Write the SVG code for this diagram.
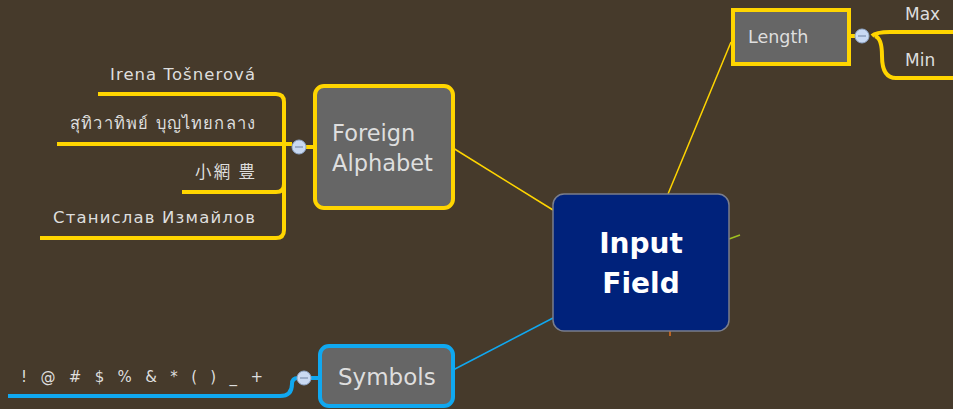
<svg xmlns="http://www.w3.org/2000/svg" width="953" height="409" viewBox="0 0 953 409">
  <style>
    .bg { fill: #463a2b; }
    .topic { fill: #666666; }
    .yel { stroke: #ffd500; }
    .blu { stroke: #10a8f0; }
    .branch { fill: none; stroke-width: 4; stroke-linecap: butt; }
    .link { fill: none; stroke-width: 1.5; }
    .lbl { font-family: "DejaVu Sans", "Open Sans", sans-serif; fill: #dedede; }
    .leaf { font-size: 16.5px; text-anchor: end; }
    .toggle { fill: #c9d9f2; stroke: #8fa6c8; stroke-width: 1; }
    .dash { stroke: #7d8fae; stroke-width: 1.2; }
  </style>
  <rect class="bg" x="0" y="0" width="953" height="409"/>

  <!-- connectors -->
  <g id="connectors">
    <path class="link yel" d="M453,148 L553,210"/>
    <path class="link yel" d="M668,194 L731,42"/>
    <path class="link blu" d="M453,370 L553,318"/>
    <path class="link" stroke="#9fc020" d="M729,239 L740,235"/>
    <path class="link" stroke="#e07020" d="M670,331 L670,336"/>

    <!-- Foreign Alphabet leaves -->
    <path class="branch yel" d="M98,94 H276 Q284,94 284,102 V230 Q284,238 276,238 H40"/>
    <path class="branch yel" d="M57,144 H292"/>
    <path class="branch yel" d="M182,192 H276 Q284,192 284,184"/>
    <path class="branch yel" d="M292,147 H315"/>

    <!-- Length leaves -->
    <path class="branch yel" d="M849,36 H869"/>
    <path class="branch yel" d="M872,36 Q876,32 890,32 H953"/>
    <path class="branch yel" d="M875,36 Q882,38 882,56 Q882,78 896,78 H953"/>

    <!-- Symbols leaf -->
    <path class="branch blu" d="M8,396 H280 Q292,396 292,384 Q292,378 298,378"/>
    <path class="branch blu" d="M310,378 H320"/>
  </g>

  <!-- central topic -->
  <g id="input-field">
    <rect x="553" y="194" width="176" height="137" rx="11" fill="#00227b" stroke="#7a7e8c" stroke-width="1.5"/>
    <text class="lbl" x="641" y="253" font-size="28" font-weight="bold" text-anchor="middle" style="fill:#ffffff">Input</text>
    <text class="lbl" x="641" y="293" font-size="28" font-weight="bold" text-anchor="middle" style="fill:#ffffff">Field</text>
  </g>

  <g id="foreign-alphabet">
    <rect class="topic yel" x="315" y="86" width="138" height="122" rx="9" stroke-width="4"/>
    <text class="lbl" x="332" y="141" font-size="22.5">Foreign</text>
    <text class="lbl" x="332" y="171" font-size="22.5">Alphabet</text>
    <circle class="toggle" cx="299" cy="147" r="7"/>
    <line class="dash" x1="295" y1="147" x2="303" y2="147"/>
  </g>

  <g id="leaf-irena"><text class="lbl leaf" x="255" y="80" textLength="145" lengthAdjust="spacing">Irena Tošnerová</text></g>
  <g id="leaf-thai"><text class="lbl leaf" x="255" y="129" textLength="185" lengthAdjust="spacing">สุทิวาทิพย์ บุญไทยกลาง</text></g>
  <g id="leaf-cjk"><text class="lbl leaf" x="255" y="178" textLength="60" lengthAdjust="spacing" style="font-family:'Noto Sans CJK JP','DejaVu Sans',sans-serif">小網 豊</text></g>
  <g id="leaf-russian"><text class="lbl leaf" x="255" y="223" textLength="202" lengthAdjust="spacing">Станислав Измайлов</text></g>

  <g id="length">
    <rect class="topic yel" x="733" y="10" width="116" height="54" stroke-width="4"/>
    <text class="lbl" x="748" y="43" font-size="17.5">Length</text>
    <circle class="toggle" cx="862" cy="36" r="7"/>
    <line class="dash" x1="858" y1="36" x2="866" y2="36"/>
  </g>
  <g id="leaf-max"><text class="lbl" x="905" y="20" font-size="17">Max</text></g>
  <g id="leaf-min"><text class="lbl" x="905" y="66" font-size="17">Min</text></g>

  <g id="symbols">
    <rect class="topic blu" x="320" y="346" width="133" height="60" rx="9" stroke-width="4"/>
    <text class="lbl" x="338" y="385" font-size="23">Symbols</text>
    <circle class="toggle" cx="304" cy="378" r="7"/>
    <line class="dash" x1="300" y1="378" x2="308" y2="378"/>
  </g>
  <g id="leaf-symbols"><text class="lbl" x="21" y="382" font-size="15" textLength="242" lengthAdjust="spacing">! @ # $ % &amp; * ( ) _ +</text></g>
</svg>
